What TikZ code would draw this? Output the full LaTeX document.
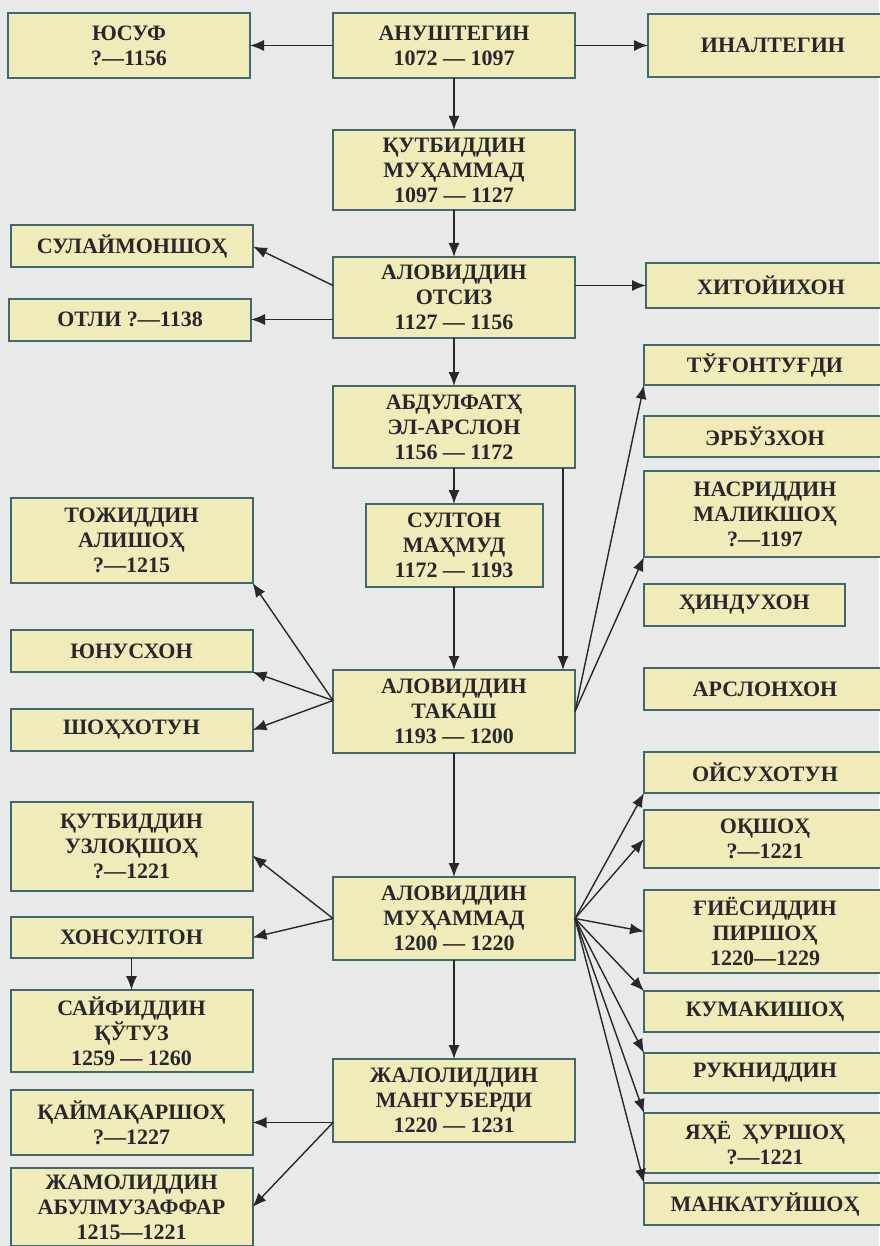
\documentclass[tikz,border=0pt]{standalone}
\usepackage{fontspec}
\setmainfont{Liberation Serif}
\usetikzlibrary{positioning, arrows.meta}
\definecolor{paper}{RGB}{232,234,233}
\definecolor{boxfill}{RGB}{240,236,186}
\definecolor{boxline}{RGB}{66,104,110}
\definecolor{ink}{RGB}{40,40,44}
\newcommand\boxfont{\bfseries\fontsize{22}{25}\selectfont}
\tikzset{
x=1pt, y=1pt, % one unit is one pixel of the scan
->,% makes the edges directed
>={Latex[length=14pt,width=11pt]}, % filled arrow heads
person/.style={draw=boxline, fill=boxfill, line width=2pt, minimum width=242pt, outer sep=0pt,
  align=center, inner sep=3pt, font=\boxfont, text=ink}, % every name box
link/.style={color=ink, line width=1.4pt}, % the connectors
}
\begin{document}
\begin{tikzpicture}
    \fill[paper] (0,0) rectangle (879,-1246);
    \useasboundingbox (0,0) rectangle (879,-1246);

    % main line
    \node[person, minimum height=65pt] (anush) at (454,-45.5) {АНУШТЕГИН\\1072 — 1097};
    \node[person, minimum height=80pt, below=52pt of anush] (qutb) {ҚУТБИДДИН\\МУҲАММАД\\1097 — 1127};
    \node[person, minimum height=81pt, below=47pt of qutb] (otsiz) {АЛОВИДДИН\\ОТСИЗ\\1127 — 1156};
    \node[person, minimum height=82pt, below=48pt of otsiz] (abdul) {АБДУЛФАТҲ\\ЭЛ-АРСЛОН\\1156 — 1172};
    \node[person, minimum height=83pt, minimum width=177pt, below=36pt of abdul] (sulton) {СУЛТОН\\МАҲМУД\\1172 — 1193};
    \node[person, minimum height=83pt, below=83pt of sulton] (takash) {АЛОВИДДИН\\ТАКАШ\\1193 — 1200};
    \node[person, minimum height=83pt, below=124pt of takash] (muham) {АЛОВИДДИН\\МУҲАММАД\\1200 — 1220};
    \node[person, minimum height=83pt, below=99pt of muham] (jalol) {ЖАЛОЛИДДИН\\МАНГУБЕРДИ\\1220 — 1231};

    % top branches
    \node[person, minimum height=65pt, left=83pt of anush] (yusuf) {ЮСУФ\\?—1156};
    \node[person, minimum height=63pt, minimum width=250pt, right=73pt of anush] (inal) {ИНАЛТЕГИН};
    \node[person, minimum height=42pt, left=80pt of otsiz, yshift=51pt] (sulaym) {СУЛАЙМОНШОҲ};
    \node[person, minimum height=42pt, left=82pt of otsiz, yshift=-22pt] (otli) {ОТЛИ ?—1138};
    \node[person, minimum height=45pt, minimum width=250pt, right=71pt of otsiz, yshift=12pt] (xitoy) {ХИТОЙИХОН};

    % right column
    \node[person, minimum height=40pt, right=69pt of abdul, yshift=62pt] (tugon) {ТЎҒОНТУҒДИ};
    \node[person, minimum height=41pt, below=31pt of tugon] (erbuz) {ЭРБЎЗХОН};
    \node[person, minimum height=86pt, below=14pt of erbuz] (nasr) {НАСРИДДИН\\МАЛИКШОҲ\\?—1197};
    \node[person, minimum height=42pt, minimum width=201pt, below right=27pt and 0pt of nasr.south west] (hindu) {ҲИНДУХОН};
    \node[person, minimum height=42pt, below right=42pt and 0pt of hindu.south west] (arslon) {АРСЛОНХОН};
    \node[person, minimum height=41pt, below=42pt of arslon] (oysu) {ОЙСУХОТУН};
    \node[person, minimum height=58pt, below=17pt of oysu] (oqshoh) {ОҚШОҲ\\?—1221};
    \node[person, minimum height=83pt, below=22pt of oqshoh] (giyos) {ҒИЁСИДДИН\\ПИРШОҲ\\1220—1229};
    \node[person, minimum height=41pt, below=18pt of giyos] (kumak) {КУМАКИШОҲ};
    \node[person, minimum height=40pt, below=21pt of kumak] (rukn) {РУКНИДДИН};
    \node[person, minimum height=60pt, below=20pt of rukn] (yahyo) {ЯҲЁ\enspace ҲУРШОҲ\\?—1221};
    \node[person, minimum height=42pt, below=10pt of yahyo] (mankat) {МАНКАТУЙШОҲ};

    % left column
    \node[person, minimum height=85pt, left=113pt of sulton, yshift=5pt] (toj) {ТОЖИДДИН\\АЛИШОҲ\\?—1215};
    \node[person, minimum height=42pt, below=47pt of toj] (yunus) {ЮНУСХОН};
    \node[person, minimum height=42pt, below=37pt of yunus] (shoh) {ШОҲХОТУН};
    \node[person, minimum height=89pt, below=51pt of shoh] (uzloq) {ҚУТБИДДИН\\УЗЛОҚШОҲ\\?—1221};
    \node[person, minimum height=41pt, below=26pt of uzloq] (xonsul) {ХОНСУЛТОН};
    \node[person, minimum height=82pt, below=32pt of xonsul] (sayf) {САЙФИДДИН\\ҚЎТУЗ\\1259 — 1260};
    \node[person, minimum height=65pt, below=18pt of sayf] (qaym) {ҚАЙМАҚАРШОҲ\\?—1227};
    \node[person, minimum height=78pt, below=13pt of qaym] (jamol) {ЖАМОЛИДДИН\\АБУЛМУЗАФФАР\\1215—1221};

  \path[link] (anush) edge (yusuf)
        (anush) edge (inal)
        (anush) edge (qutb)
        (qutb) edge (otsiz)

        ([yshift=12pt]otsiz.west) edge (sulaym.east)
        (otsiz.west |- otli.east) edge (otli.east)
        (otsiz.east |- xitoy.west) edge (xitoy.west)
        (otsiz) edge (abdul)

        (abdul) edge (sulton)
        ([xshift=-12pt]abdul.south east) edge ([xshift=-12pt]takash.north east)
        (sulton) edge (takash)

        (takash.east) edge (tugon.south west)
        (takash.east) edge (nasr.south west)
        ([yshift=11pt]takash.west) edge (toj.south east)
        ([yshift=11pt]takash.west) edge (yunus.south east)
        ([yshift=11pt]takash.west) edge (shoh.east)
        (takash) edge (muham)

        (muham.west) edge ([yshift=-9pt]uzloq.east)
        (muham.west) edge (xonsul.east)
        (xonsul) edge (sayf)
        (muham.east) edge (oysu.south west)
        (muham.east) edge (oqshoh.west)
        (muham.east) edge (giyos.west)
        (muham.east) edge (kumak.north west)
        (muham.east) edge (rukn.north west)
        (muham.east) edge (yahyo.north west)
        (muham.east) edge (mankat.north west)
        (muham) edge (jalol)

        (jalol.west |- qaym.east) edge (qaym.east)
        (jalol.west |- qaym.east) edge (jamol.east);
\end{tikzpicture}
\end{document}
